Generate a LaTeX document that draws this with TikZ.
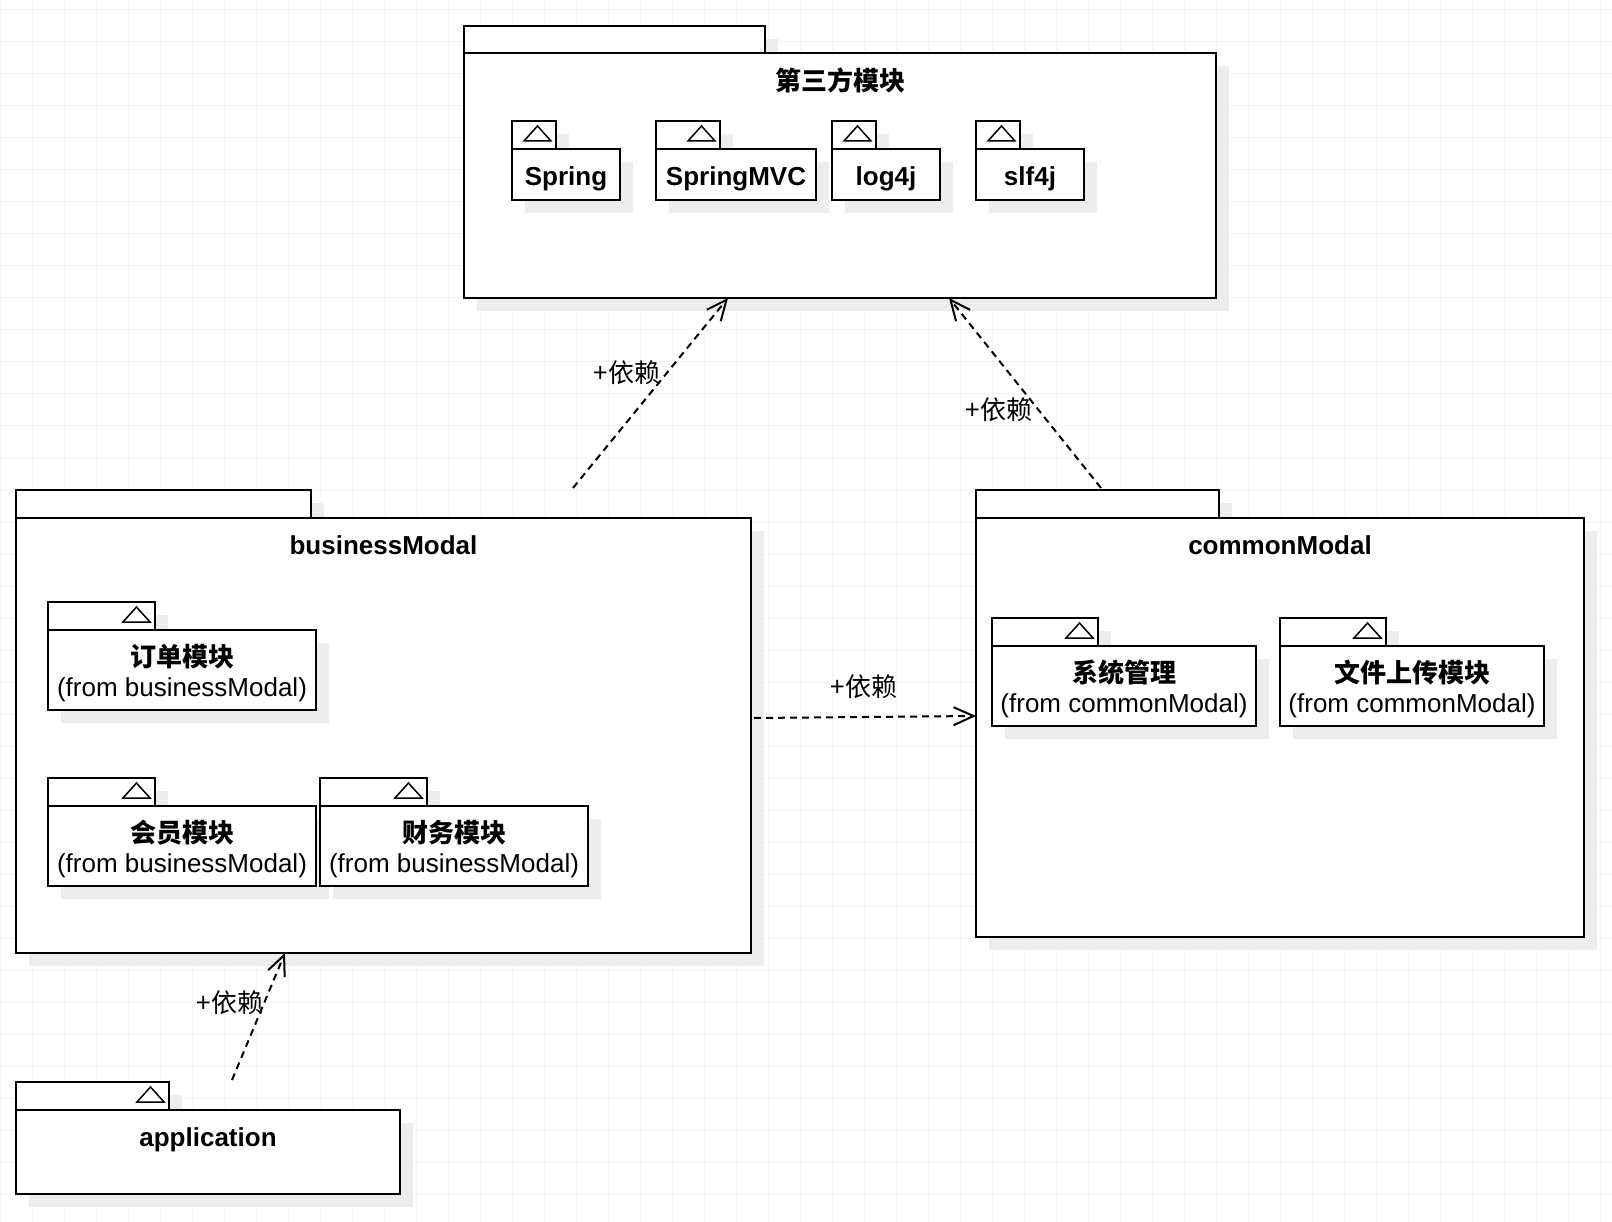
\documentclass[tikz,border=0pt]{standalone}
\usepackage{fontspec}
\setmainfont{Liberation Sans}
\newfontfamily\cjk{Noto Sans CJK SC}
\usetikzlibrary{arrows.meta,shadows,calc,positioning}
\definecolor{gridgray}{HTML}{F5F5F5}
\definecolor{shadegray}{HTML}{EDEDED}

\begin{document}
\begin{tikzpicture}[x=1pt, y=-1pt,
   font=\fontsize{26}{30}\selectfont,
   pkg/.style={draw=black, line width=2pt, fill=white, inner sep=0pt, outer sep=0pt,
      drop shadow={shadow xshift=13pt, shadow yshift=-13pt, fill=shadegray, opacity=1}},
   pkgtab/.style={pkg, anchor=south west, minimum height=28pt},
   pkgbody/.style={pkg, anchor=north west},
   title/.style={font=\fontsize{26}{30}\selectfont\bfseries, inner sep=0pt},
   subname/.style={align=center, inner sep=0pt},
   tabmark/.style={line width=1.5pt, line join=miter},
   gridline/.style={draw=gridgray, line width=1pt},
   dep/.style={line width=2pt, dash pattern=on 7pt off 5pt,
      -{Straight Barb[length=20pt,width=18pt,line width=2pt]}},
   deplabel/.style={font=\cjk\fontsize{26}{30}\selectfont, inner sep=1pt}]
   \useasboundingbox (0,0) rectangle (1612,1222);
   \fill[white] (0,0) rectangle (1612,1222);
   \foreach \gx in {0,32,...,1600} \draw[gridline] (\gx,0) -- (\gx,1222);
   \foreach \gy in {10,42,...,1222} \draw[gridline] (0,\gy) -- (1612,\gy);

   %third party
   \node[pkgtab, minimum width=301pt, minimum height=27pt] (thirdTab) at (464,53) {};
   \node[pkgbody, minimum width=752pt, minimum height=245pt] (thirdBody) at (thirdTab.south west) {};
   \node[title] (thirdName) at ([yshift=-27pt]thirdBody.north) {\cjk 第三方模块};
   \node[pkgtab, minimum width=44pt] (springTab) at (512,149) {};
   \node[pkgbody, minimum width=108pt, minimum height=51pt] (spring) at (springTab.south west) {};
   \node[subname] (springName) at ([yshift=-4pt]spring.center) {\bfseries Spring};
   \node[pkgtab, minimum width=64pt] (mvcTab) at (656,149) {};
   \node[pkgbody, minimum width=160pt, minimum height=51pt] (mvc) at (mvcTab.south west) {};
   \node[subname] (mvcName) at ([yshift=-4pt]mvc.center) {\bfseries SpringMVC};
   \node[pkgtab, minimum width=44pt] (logTab) at (832,149) {};
   \node[pkgbody, minimum width=108pt, minimum height=51pt] (log) at (logTab.south west) {};
   \node[subname] (logName) at ([yshift=-4pt]log.center) {\bfseries log4j};
   \node[pkgtab, minimum width=44pt] (slfTab) at (976,149) {};
   \node[pkgbody, minimum width=108pt, minimum height=51pt] (slf) at (slfTab.south west) {};
   \node[subname] (slfName) at ([yshift=-4pt]slf.center) {\bfseries slf4j};

   %businessModal
   \node[pkgtab, minimum width=295pt] (bizTab) at (16,518) {};
   \node[pkgbody, minimum width=735pt, minimum height=435pt] (bizBody) at (bizTab.south west) {};
   \node[title] (bizName) at ([yshift=-27pt]bizBody.north) {businessModal};
   \node[pkgtab, minimum width=107pt] (orderTab) at (48,630) {};
   \node[pkgbody, minimum width=268pt, minimum height=80pt] (order) at (orderTab.south west) {};
   \node[subname] (orderName) at ([yshift=-3pt]order.center) {{\cjk\bfseries 订单模块}\\(from businessModal)};
   \node[pkgtab, minimum width=107pt] (memberTab) at (48,806) {};
   \node[pkgbody, minimum width=268pt, minimum height=80pt] (member) at (memberTab.south west) {};
   \node[subname] (memberName) at ([yshift=-3pt]member.center) {{\cjk\bfseries 会员模块}\\(from businessModal)};
   \node[pkgtab, minimum width=107pt] (financeTab) at (320,806) {};
   \node[pkgbody, minimum width=268pt, minimum height=80pt] (finance) at (financeTab.south west) {};
   \node[subname] (financeName) at ([yshift=-3pt]finance.center) {{\cjk\bfseries 财务模块}\\(from businessModal)};

   %commonModal
   \node[pkgtab, minimum width=243pt] (commonTab) at (976,518) {};
   \node[pkgbody, minimum width=608pt, minimum height=419pt] (commonBody) at (commonTab.south west) {};
   \node[title] (commonName) at ([yshift=-27pt]commonBody.north) {commonModal};
   \node[pkgtab, minimum width=106pt] (sysTab) at (992,646) {};
   \node[pkgbody, minimum width=264pt, minimum height=80pt] (sys) at (sysTab.south west) {};
   \node[subname] (sysName) at ([yshift=-3pt]sys.center) {{\cjk\bfseries 系统管理}\\(from commonModal)};
   \node[pkgtab, minimum width=106pt] (uploadTab) at (1280,646) {};
   \node[pkgbody, minimum width=264pt, minimum height=80pt] (upload) at (uploadTab.south west) {};
   \node[subname] (uploadName) at ([yshift=-3pt]upload.center) {{\cjk\bfseries 文件上传模块}\\(from commonModal)};

   %application
   \node[pkgtab, minimum width=153pt] (appTab) at (16,1110) {};
   \node[pkgbody, minimum width=384pt, minimum height=84pt] (appBody) at (appTab.south west) {};
   \node[title] (appName) at ([yshift=-30pt]appBody.north) {application};

   %tab marks
   \foreach \t in {springTab,mvcTab,logTab,slfTab,orderTab,memberTab,financeTab,sysTab,uploadTab,appTab}
      \draw[tabmark] ([xshift=-5pt,yshift=-20pt]\t.north east) -- ++(-27,0) -- ++(13.5,-15) -- cycle;

   %dependencies
   \path[dep]
      ([xshift=557pt,yshift=2pt]bizTab.north west) edge ([xshift=264pt]thirdBody.south west)
      ([xshift=125pt,yshift=2pt]commonTab.north west) edge ([xshift=485pt]thirdBody.south west)
      ([xshift=3pt,yshift=-200pt]bizBody.north east) edge ([yshift=-198pt]commonBody.north west)
      ([xshift=216pt,yshift=2pt]appTab.north west) edge ([xshift=269pt]bizBody.south west);
   \node[deplabel] (dep1Label) at (627,373) {+依赖};
   \node[deplabel] (dep2Label) at (999,410) {+依赖};
   \node[deplabel] (dep3Label) at (864,687) {+依赖};
   \node[deplabel] (dep4Label) at (230,1003) {+依赖};
\end{tikzpicture}
\end{document}
